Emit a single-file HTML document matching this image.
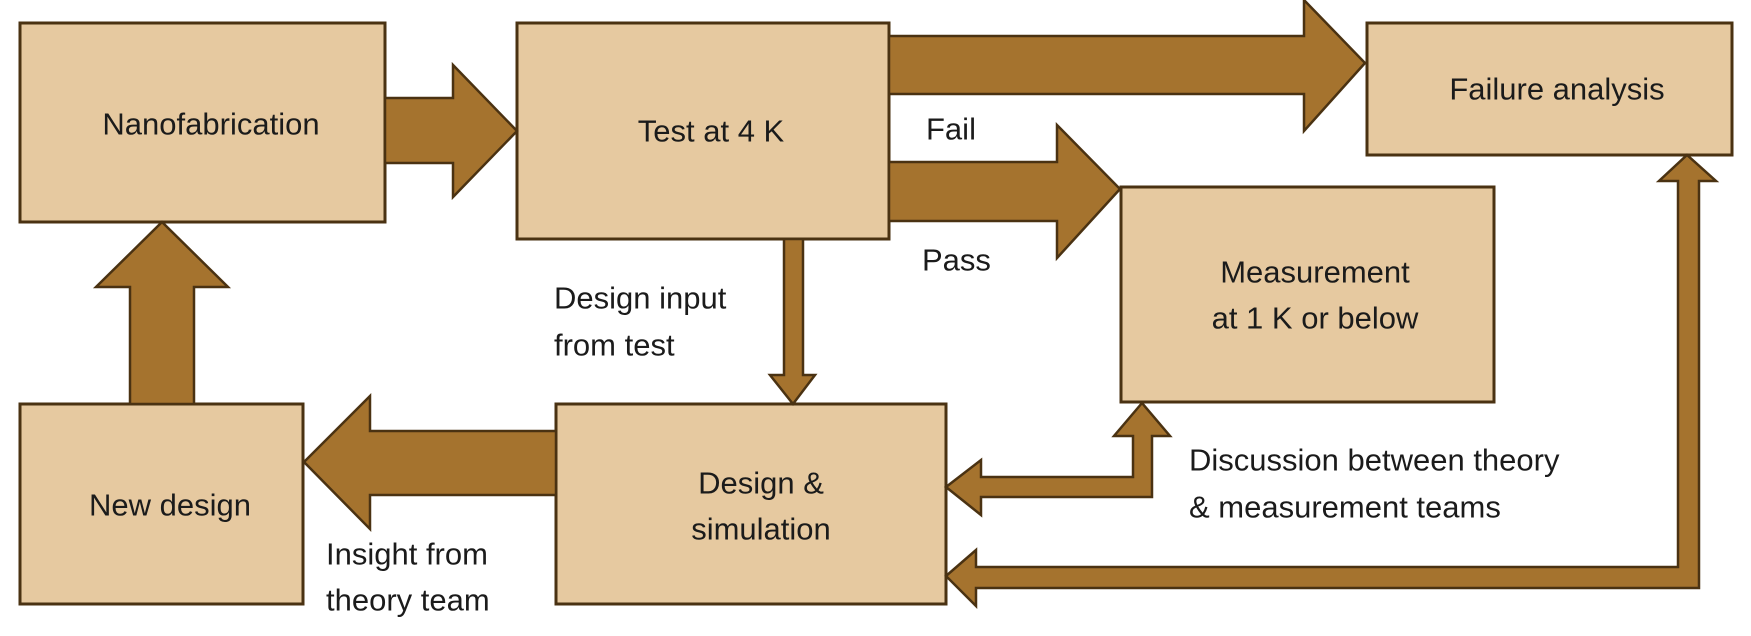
<!DOCTYPE html>
<html><head><meta charset="utf-8"><style>
html,body{margin:0;padding:0;background:#fff;}
svg{display:block;}
text{font-family:"Liberation Sans",sans-serif;font-size:31px;fill:#1b1b1b;}
</style></head><body>
<svg width="1751" height="636" viewBox="0 0 1751 636" xmlns="http://www.w3.org/2000/svg">
<g fill="#e6c9a0" stroke="#4a3212" stroke-width="3">
<rect x="20" y="23" width="365" height="199"/>
<rect x="517" y="23" width="372" height="216"/>
<rect x="1367" y="23" width="365" height="132"/>
<rect x="1121" y="187" width="373" height="215"/>
<rect x="20" y="404" width="283" height="200"/>
<rect x="556" y="404" width="390" height="200"/>
</g>
<g fill="#a5732e" stroke="#4a3212" stroke-width="2.5" stroke-linejoin="miter">
<!-- nano -> test -->
<polygon points="385,98 453,98 453,65 517,131 453,197 453,163 385,163"/>
<!-- new design -> nano -->
<polygon points="130,404 130,287 96,287 162,222 228,287 194,287 194,404"/>
<!-- sim -> new design -->
<polygon points="556,431 370,431 370,396 304,462 370,529 370,495 556,495"/>
<!-- test -> sim -->
<polygon points="784,239 784,375 770,375 793,404 815,375 803,375 803,239"/>
<!-- fail -->
<polygon points="889,36 1304,36 1304,0 1365,63 1304,131 1304,94 889,94"/>
<!-- pass -->
<polygon points="889,162 1057,162 1057,125 1120,189 1057,258 1057,221 889,221"/>
<!-- discussion double arrow -->
<polygon points="946,487 981,460 981,477 1133,477 1133,436 1114,436 1142,403 1170,436 1152,436 1152,497 981,497 981,515"/>
<!-- long feedback -->
<polygon points="946,576 976,550 976,567 1678,567 1678,181 1659,181 1687,155 1716,181 1699,181 1699,588 976,588 976,606"/>
</g>
<g text-anchor="middle" dominant-baseline="central">
<text x="211" y="124">Nanofabrication</text>
<text x="711" y="131">Test at 4 K</text>
<text x="1557" y="89">Failure analysis</text>
<text x="1315" y="272">Measurement</text>
<text x="1315" y="318">at 1 K or below</text>
<text x="170" y="505">New design</text>
<text x="761" y="483">Design &amp;</text>
<text x="761" y="529">simulation</text>
</g>
<g dominant-baseline="central">
<text x="926" y="129">Fail</text>
<text x="922" y="260">Pass</text>
<text x="554" y="298">Design input</text>
<text x="554" y="345">from test</text>
<text x="326" y="554">Insight from</text>
<text x="326" y="600">theory team</text>
<text x="1189" y="460">Discussion between theory</text>
<text x="1189" y="507">&amp; measurement teams</text>
</g>
</svg>
</body></html>
